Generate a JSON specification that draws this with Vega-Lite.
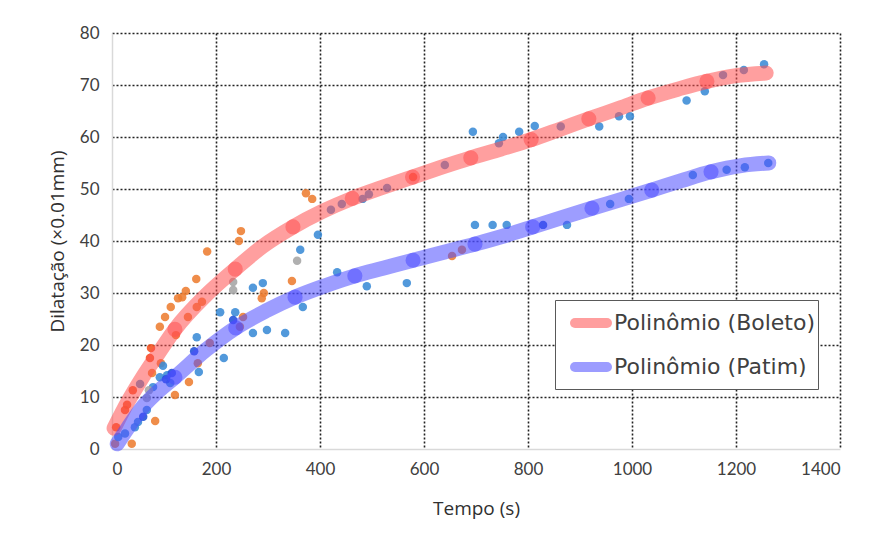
{
  "$schema": "https://vega.github.io/schema/vega-lite/v6.json",
  "width": 728,
  "height": 416,
  "autosize": {"type": "none"},
  "padding": {"left": 112, "top": 33, "right": 34, "bottom": 91},
  "background": "white",
  "config": {
    "view": {"stroke": null},
    "font": "Lato",
    "axis": {
      "labelFont": "Lato",
      "labelFontSize": 17,
      "labelColor": "#404040",
      "titleFont": "Open Sans",
      "titleFontSize": 19,
      "titleFontWeight": "normal",
      "titleColor": "#303030",
      "domainColor": "#D9D9D9",
      "domainWidth": 1.5,
      "ticks": false,
      "gridDash": [2, 2],
      "gridWidth": 1.6,
      "gridOpacity": 1
    }
  },
  "datasets": {
    "pts": [
      {"t": 8, "d": 4.2, "s": "red"}, {"t": 25, "d": 7.5, "s": "red"}, {"t": 29, "d": 8.5, "s": "red"},
      {"t": 40, "d": 11.3, "s": "red"}, {"t": 73, "d": 17.5, "s": "red"}, {"t": 75, "d": 19.4, "s": "red"},
      {"t": 579, "d": 52.3, "s": "red"},
      {"t": 6, "d": 1, "s": "orange"}, {"t": 38, "d": 1, "s": "orange"}, {"t": 83, "d": 5.4, "s": "orange"},
      {"t": 121, "d": 10.4, "s": "orange"}, {"t": 148, "d": 12.9, "s": "orange"}, {"t": 92, "d": 23.5, "s": "orange"},
      {"t": 102, "d": 25.4, "s": "orange"}, {"t": 113, "d": 27.3, "s": "orange"}, {"t": 127, "d": 29, "s": "orange"},
      {"t": 135, "d": 29.2, "s": "orange"}, {"t": 142, "d": 30.4, "s": "orange"}, {"t": 162, "d": 32.7, "s": "orange"},
      {"t": 183, "d": 38, "s": "orange"}, {"t": 244, "d": 40, "s": "orange"}, {"t": 248, "d": 41.9, "s": "orange"},
      {"t": 288, "d": 29, "s": "orange"}, {"t": 292, "d": 30, "s": "orange"}, {"t": 346, "d": 32.3, "s": "orange"},
      {"t": 373, "d": 49.2, "s": "orange"}, {"t": 385, "d": 48.1, "s": "orange"},
      {"t": 77, "d": 14.6, "s": "orange"}, {"t": 94, "d": 16.5, "s": "orange"}, {"t": 123, "d": 21.9, "s": "orange"},
      {"t": 146, "d": 25.4, "s": "orange"}, {"t": 163, "d": 27.3, "s": "orange"}, {"t": 173, "d": 28.3, "s": "orange"},
      {"t": 165, "d": 16.5, "s": "orange"}, {"t": 188, "d": 20.4, "s": "orange"}, {"t": 252, "d": 25.4, "s": "orange"},
      {"t": 246, "d": 23.5, "s": "orange"}, {"t": 654, "d": 37.1, "s": "orange"}, {"t": 673, "d": 38.3, "s": "orange"},
      {"t": 12, "d": 2.3, "s": "blue"}, {"t": 25, "d": 3, "s": "blue"}, {"t": 50, "d": 5.2, "s": "blue"},
      {"t": 67, "d": 7.5, "s": "blue"}, {"t": 79, "d": 11.9, "s": "blue"}, {"t": 92, "d": 13.8, "s": "blue"},
      {"t": 106, "d": 14.2, "s": "blue"}, {"t": 112, "d": 12.7, "s": "blue"}, {"t": 98, "d": 16, "s": "blue"},
      {"t": 163, "d": 21.5, "s": "blue"}, {"t": 167, "d": 14.8, "s": "blue"}, {"t": 215, "d": 17.5, "s": "blue"},
      {"t": 208, "d": 26.3, "s": "blue"}, {"t": 237, "d": 26.3, "s": "blue"}, {"t": 271, "d": 22.3, "s": "blue"},
      {"t": 298, "d": 22.9, "s": "blue"}, {"t": 333, "d": 22.3, "s": "blue"}, {"t": 271, "d": 31, "s": "blue"},
      {"t": 290, "d": 31.9, "s": "blue"}, {"t": 362, "d": 38.3, "s": "blue"}, {"t": 367, "d": 27.3, "s": "blue"},
      {"t": 396, "d": 41.2, "s": "blue"}, {"t": 433, "d": 34, "s": "blue"}, {"t": 490, "d": 31.3, "s": "blue"},
      {"t": 567, "d": 31.9, "s": "blue"}, {"t": 698, "d": 43.1, "s": "blue"}, {"t": 732, "d": 43.1, "s": "blue"},
      {"t": 759, "d": 43.1, "s": "blue"}, {"t": 875, "d": 43.1, "s": "blue"}, {"t": 958, "d": 47.1, "s": "blue"},
      {"t": 994, "d": 48.1, "s": "blue"}, {"t": 1117, "d": 52.7, "s": "blue"}, {"t": 1182, "d": 53.7, "s": "blue"},
      {"t": 1217, "d": 54.2, "s": "blue"}, {"t": 1262, "d": 55, "s": "blue"},
      {"t": 694, "d": 61, "s": "blue"}, {"t": 752, "d": 60, "s": "blue"}, {"t": 783, "d": 61, "s": "blue"},
      {"t": 813, "d": 62.1, "s": "blue"}, {"t": 937, "d": 62, "s": "blue"}, {"t": 996, "d": 64, "s": "blue"},
      {"t": 1105, "d": 67, "s": "blue"}, {"t": 1140, "d": 68.8, "s": "blue"}, {"t": 1254, "d": 74, "s": "blue"},
      {"t": 54, "d": 12.5, "s": "blue"}, {"t": 44, "d": 4.2, "s": "blue"}, {"t": 421, "d": 46, "s": "blue"},
      {"t": 442, "d": 47.1, "s": "blue"}, {"t": 482, "d": 48.1, "s": "blue"}, {"t": 494, "d": 49, "s": "blue"},
      {"t": 529, "d": 50.2, "s": "blue"}, {"t": 640, "d": 54.6, "s": "blue"}, {"t": 744, "d": 58.8, "s": "blue"},
      {"t": 863, "d": 62, "s": "blue"}, {"t": 975, "d": 64, "s": "blue"}, {"t": 1175, "d": 71.9, "s": "blue"},
      {"t": 1215, "d": 72.9, "s": "blue"},
      {"t": 60, "d": 6.2, "s": "darkblue"}, {"t": 115, "d": 14.6, "s": "darkblue"}, {"t": 158, "d": 18.8, "s": "darkblue"},
      {"t": 233, "d": 24.8, "s": "darkblue"}, {"t": 829, "d": 43.1, "s": "darkblue"}, {"t": 104, "d": 13.4, "s": "darkblue"},
      {"t": 67, "d": 9.8, "s": "gray"}, {"t": 71, "d": 11.3, "s": "gray"}, {"t": 233, "d": 30.6, "s": "gray"},
      {"t": 233, "d": 32.1, "s": "gray"}, {"t": 356, "d": 36.2, "s": "gray"}
    ],
    "trend": [
      {"t": 4, "d": 4, "serie": "Polinômio (Boleto)"}, {"t": 30, "d": 9, "serie": "Polinômio (Boleto)"},
      {"t": 60, "d": 14, "serie": "Polinômio (Boleto)"}, {"t": 90, "d": 18.5, "serie": "Polinômio (Boleto)"},
      {"t": 121, "d": 23, "serie": "Polinômio (Boleto)"}, {"t": 180, "d": 29.5, "serie": "Polinômio (Boleto)"},
      {"t": 237, "d": 34.6, "serie": "Polinômio (Boleto)"}, {"t": 290, "d": 39, "serie": "Polinômio (Boleto)"},
      {"t": 348, "d": 42.7, "serie": "Polinômio (Boleto)"}, {"t": 405, "d": 45.7, "serie": "Polinômio (Boleto)"},
      {"t": 462, "d": 48.2, "serie": "Polinômio (Boleto)"}, {"t": 520, "d": 50.3, "serie": "Polinômio (Boleto)"},
      {"t": 578, "d": 52.3, "serie": "Polinômio (Boleto)"}, {"t": 634, "d": 54.2, "serie": "Polinômio (Boleto)"},
      {"t": 690, "d": 56, "serie": "Polinômio (Boleto)"}, {"t": 748, "d": 57.7, "serie": "Polinômio (Boleto)"},
      {"t": 806, "d": 59.5, "serie": "Polinômio (Boleto)"}, {"t": 862, "d": 61.5, "serie": "Polinômio (Boleto)"},
      {"t": 917, "d": 63.5, "serie": "Polinômio (Boleto)"}, {"t": 975, "d": 65.5, "serie": "Polinômio (Boleto)"},
      {"t": 1031, "d": 67.5, "serie": "Polinômio (Boleto)"}, {"t": 1088, "d": 69.2, "serie": "Polinômio (Boleto)"},
      {"t": 1144, "d": 70.7, "serie": "Polinômio (Boleto)"}, {"t": 1200, "d": 71.8, "serie": "Polinômio (Boleto)"},
      {"t": 1258, "d": 72.3, "serie": "Polinômio (Boleto)"},
      {"t": 10, "d": 1, "serie": "Polinômio (Patim)"}, {"t": 30, "d": 4, "serie": "Polinômio (Patim)"},
      {"t": 60, "d": 8.2, "serie": "Polinômio (Patim)"}, {"t": 90, "d": 11.2, "serie": "Polinômio (Patim)"},
      {"t": 121, "d": 13.8, "serie": "Polinômio (Patim)"}, {"t": 180, "d": 19, "serie": "Polinômio (Patim)"},
      {"t": 238, "d": 23.3, "serie": "Polinômio (Patim)"}, {"t": 295, "d": 26.5, "serie": "Polinômio (Patim)"},
      {"t": 352, "d": 29.2, "serie": "Polinômio (Patim)"}, {"t": 410, "d": 31.4, "serie": "Polinômio (Patim)"},
      {"t": 467, "d": 33.3, "serie": "Polinômio (Patim)"}, {"t": 523, "d": 34.8, "serie": "Polinômio (Patim)"},
      {"t": 579, "d": 36.3, "serie": "Polinômio (Patim)"}, {"t": 640, "d": 37.9, "serie": "Polinômio (Patim)"},
      {"t": 698, "d": 39.4, "serie": "Polinômio (Patim)"}, {"t": 755, "d": 41, "serie": "Polinômio (Patim)"},
      {"t": 809, "d": 42.7, "serie": "Polinômio (Patim)"}, {"t": 865, "d": 44.5, "serie": "Polinômio (Patim)"},
      {"t": 923, "d": 46.3, "serie": "Polinômio (Patim)"}, {"t": 980, "d": 48, "serie": "Polinômio (Patim)"},
      {"t": 1038, "d": 49.8, "serie": "Polinômio (Patim)"}, {"t": 1095, "d": 51.6, "serie": "Polinômio (Patim)"},
      {"t": 1152, "d": 53.3, "serie": "Polinômio (Patim)"}, {"t": 1210, "d": 54.5, "serie": "Polinômio (Patim)"},
      {"t": 1263, "d": 55, "serie": "Polinômio (Patim)"}
    ],
    "marks": [
      {"t": 121, "d": 23, "serie": "Polinômio (Boleto)"}, {"t": 237, "d": 34.6, "serie": "Polinômio (Boleto)"},
      {"t": 348, "d": 42.7, "serie": "Polinômio (Boleto)"}, {"t": 462, "d": 48.2, "serie": "Polinômio (Boleto)"},
      {"t": 578, "d": 52.3, "serie": "Polinômio (Boleto)"}, {"t": 690, "d": 56, "serie": "Polinômio (Boleto)"},
      {"t": 806, "d": 59.5, "serie": "Polinômio (Boleto)"}, {"t": 917, "d": 63.5, "serie": "Polinômio (Boleto)"},
      {"t": 1031, "d": 67.5, "serie": "Polinômio (Boleto)"}, {"t": 1144, "d": 70.7, "serie": "Polinômio (Boleto)"},
      {"t": 121, "d": 13.8, "serie": "Polinômio (Patim)"}, {"t": 238, "d": 23.3, "serie": "Polinômio (Patim)"},
      {"t": 352, "d": 29.2, "serie": "Polinômio (Patim)"}, {"t": 467, "d": 33.3, "serie": "Polinômio (Patim)"},
      {"t": 579, "d": 36.3, "serie": "Polinômio (Patim)"}, {"t": 698, "d": 39.4, "serie": "Polinômio (Patim)"},
      {"t": 809, "d": 42.7, "serie": "Polinômio (Patim)"}, {"t": 923, "d": 46.3, "serie": "Polinômio (Patim)"},
      {"t": 1038, "d": 49.8, "serie": "Polinômio (Patim)"}, {"t": 1152, "d": 53.3, "serie": "Polinômio (Patim)"}
    ]
  },
  "encoding": {
    "x": {
      "field": "t", "type": "quantitative",
      "scale": {"domain": [0, 1400], "nice": false, "zero": true},
      "axis": {
        "title": "Tempo (s)", "values": [0, 200, 400, 600, 800, 1000, 1200, 1400], "format": "d",
        "labelPadding": 12, "titlePadding": 22,
        "gridColor": {"condition": {"test": "datum.value === 0", "value": "transparent"}, "value": "#222222"}
      }
    },
    "y": {
      "field": "d", "type": "quantitative",
      "scale": {"domain": [0, 80], "nice": false},
      "axis": {
        "title": "Dilatação (×0.01mm)", "values": [0, 10, 20, 30, 40, 50, 60, 70, 80], "format": "d",
        "labelPadding": 13, "titlePadding": 12,
        "gridColor": {"condition": {"test": "datum.value === 0", "value": "transparent"}, "value": "#222222"}
      }
    }
  },
  "layer": [
    {
      "data": {"name": "pts"},
      "mark": {"type": "circle", "size": 72, "opacity": 0.88},
      "encoding": {
        "fill": {
          "field": "s", "type": "nominal", "legend": null,
          "scale": {"domain": ["orange", "red", "blue", "darkblue", "gray"],
                    "range": ["#ED7D31", "#F2501E", "#3A8BD6", "#2050D8", "#A5A5A5"]}
        }
      }
    },
    {
      "data": {"name": "trend"},
      "mark": {"type": "line", "strokeWidth": 15, "strokeCap": "round", "strokeJoin": "round", "opacity": 0.55, "interpolate": "monotone"},
      "encoding": {
        "stroke": {
          "field": "serie", "type": "nominal",
          "scale": {"domain": ["Polinômio (Boleto)", "Polinômio (Patim)"], "range": ["#FF5050", "#4D4DFF"]},
          "legend": {
            "title": null, "orient": "none", "legendX": 443, "legendY": 267,
            "strokeColor": "#595959", "fillColor": "white", "padding": 2,
            "labelFont": "DejaVu Sans", "labelFontSize": 22, "labelColor": "#404040",
            "symbolType": "stroke", "symbolSize": 1024, "symbolStrokeWidth": 10, "symbolOpacity": 0.55,
            "symbolOffset": 13, "labelOffset": 2, "rowPadding": 3, "labelLimit": 400,
            "encode": {"symbols": {"update": {"strokeCap": {"value": "round"}}}}
          }
        }
      }
    },
    {
      "data": {"name": "marks"},
      "mark": {"type": "circle", "size": 230, "opacity": 0.55},
      "encoding": {
        "color": {
          "condition": {"test": "datum.serie === 'Polinômio (Boleto)'", "value": "#FF5050"},
          "value": "#4D4DFF"
        }
      }
    }
  ]
}
